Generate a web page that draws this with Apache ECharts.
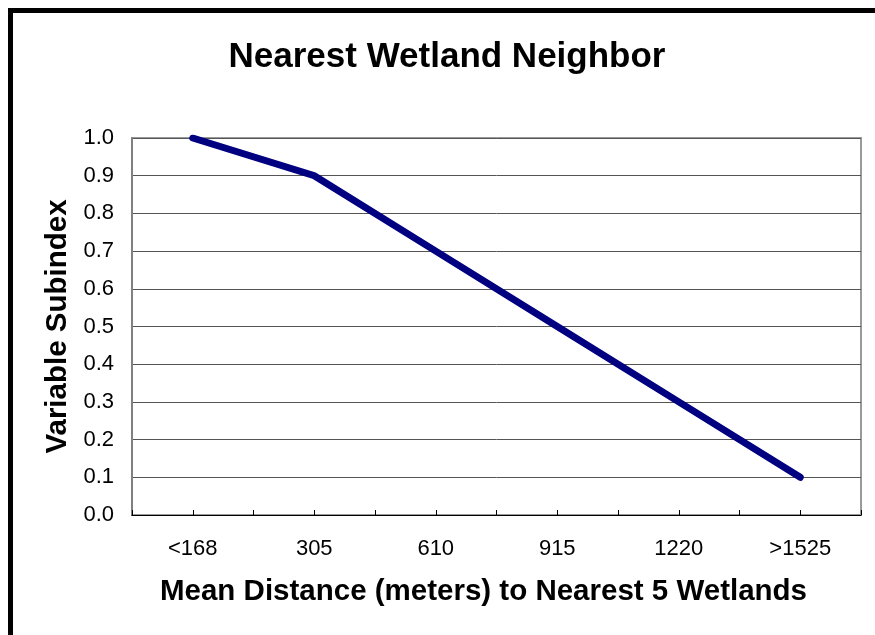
<!DOCTYPE html>
<html>
<head>
<meta charset="utf-8">
<script src="https://cdn.jsdelivr.net/npm/echarts@6/dist/echarts.min.js"></script>
<style>
html,body{margin:0;padding:0;background:#fff;}
#chart{width:875px;height:635px;}
</style>
</head>
<body>
<div id="chart"></div>
<script>
const categories = ['<168', '305', '610', '915', '1220', '>1525'];
const subindexValues = [1.0, 0.9, 0.7, 0.5, 0.3, 0.1];
const titleText = 'Nearest Wetland Neighbor';
const xAxisTitle = 'Mean Distance (meters) to Nearest 5 Wetlands';
const yAxisTitle = 'Variable Subindex';

const FONT = '"Liberation Sans", Arial, sans-serif';
const chart = echarts.init(document.getElementById('chart'), null, {renderer: 'canvas'});
chart.setOption({
  animation: false,
  backgroundColor: '#ffffff',
  title: {
    text: titleText,
    left: 442, top: 35, textAlign: 'center',
    textStyle: {fontFamily: FONT, fontSize: 35, fontWeight: 'bold', color: '#000'}
  },
  graphic: [{
    type: 'rect', silent: true,
    shape: {x: 10.5, y: 10.5, width: 1000, height: 1000},
    style: {fill: 'none', stroke: '#000', lineWidth: 5}
  }],
  grid: {
    left: 132, top: 138, right: 14, bottom: 120,
    show: true, borderColor: '#9a9a9a', borderWidth: 2, backgroundColor: 'transparent'
  },
  xAxis: [{
    type: 'category', data: categories, boundaryGap: true, position: 'bottom',
    name: xAxisTitle, nameLocation: 'middle', nameGap: 62,
    nameTextStyle: {fontFamily: FONT, fontSize: 29.5, fontWeight: 'bold', color: '#000', padding: [0, 26, 0, 0]},
    axisLine: {show: true, lineStyle: {color: '#000', width: 1}},
    axisTick: {show: true, inside: true, length: 5, alignWithLabel: true, interval: 0, lineStyle: {color: '#000'}},
    axisLabel: {interval: 0, margin: 23, fontFamily: FONT, fontSize: 22, color: '#000'},
    splitLine: {show: false}
  }, {
    type: 'category', data: categories, boundaryGap: true, position: 'bottom',
    axisLine: {show: false},
    axisTick: {show: true, inside: true, length: 5, interval: 0, lineStyle: {color: '#000'}},
    axisLabel: {show: false},
    splitLine: {show: false}
  }],
  yAxis: {
    type: 'value', min: 0, max: 1, interval: 0.1,
    name: yAxisTitle, nameLocation: 'middle', nameGap: 57,
    nameTextStyle: {fontFamily: FONT, fontSize: 29.5, fontWeight: 'bold', color: '#000'},
    axisLine: {show: true, lineStyle: {color: '#808080', width: 2}},
    axisTick: {show: false},
    axisLabel: {margin: 18, fontFamily: FONT, fontSize: 22, color: '#000', formatter: v => v.toFixed(1)},
    splitLine: {show: true, lineStyle: {color: '#555', width: 1}}
  },
  series: [{
    type: 'line', data: subindexValues, xAxisIndex: 0,
    symbol: 'none', smooth: false,
    lineStyle: {color: '#000080', width: 7, cap: 'round', join: 'miter'}
  }]
});
</script>
</body>
</html>
